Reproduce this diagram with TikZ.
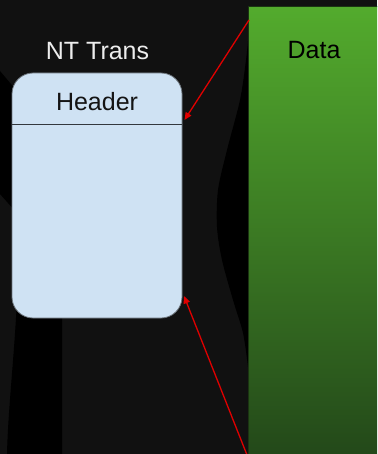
\documentclass[tikz,border=0pt]{standalone}
\usepackage{fontspec}
\setmainfont{Liberation Sans}
\usetikzlibrary{arrows.meta}
\definecolor{bg}{HTML}{111111}
\definecolor{boxfill}{HTML}{CFE2F3}
\definecolor{boxline}{HTML}{6E767D}
\definecolor{divline}{HTML}{33383D}
\definecolor{greentop}{HTML}{53AB2D}
\definecolor{greenbot}{HTML}{224619}
\definecolor{greenline}{HTML}{1B3412}
\definecolor{arrowred}{HTML}{E00000}

\begin{document}
\begin{tikzpicture}[x=1pt,y=-1pt,
  txt/.style={font=\fontsize{25}{30}\selectfont, inner sep=0pt},
  record/.style={draw=boxline, line width=0.8pt, fill=boxfill,
    rounded corners=21pt, minimum width=170pt, minimum height=245pt, inner sep=0pt},
  datablock/.style={draw=greenline, line width=1pt, top color=greentop,
    bottom color=greenbot, minimum width=140pt, minimum height=460pt,
    anchor=north west, inner sep=0pt},
  link/.style={draw=arrowred, line width=1.3pt, -{Triangle[length=7.5pt,width=6.5pt]}}
]
\useasboundingbox (0,0) rectangle (377,454);
\clip (0,0) rectangle (377,454);

% backdrop
\fill[bg] (0,0) rectangle (377,454);
\fill[black] (0,71) -- (16,90) -- (16,212) -- (0,194) -- cycle;
\fill[black] (17,300) .. controls (14,360) and (8,410) .. (7,454) -- (62,454) -- (62,300) -- cycle;
\fill[black] plot[smooth] coordinates {(249,30) (246,60) (240,100) (227,150)
  (218,190) (217,227) (222,260) (233,300) (243,333) (248,367) (249,380)} -- cycle;

% data block
\node[datablock] (data) at (248,6) {};
\node[txt, text=black] (datalabel) at (314,50) {Data};

% record with header
\node[txt, text=white!93!black] (title) at (97.5,51) {NT Trans};
\node[record] (box) at (97,195.5) {};
\node[txt, text=black!92] (header) at (97,102) {Header};
\coordinate (divL) at (12,125);
\coordinate (divR) at (182,125);
\draw[divline, line width=1pt] (divL) -- (divR);

% links from the data block
\coordinate (srcTop) at (249,20);
\coordinate (srcBot) at (247,455);
\coordinate (dstTop) at (184.5,120);
\coordinate (dstBot) at (184,296);
\draw[link] (srcTop) -- (dstTop);
\draw[link] (srcBot) -- (dstBot);
\end{tikzpicture}
\end{document}
